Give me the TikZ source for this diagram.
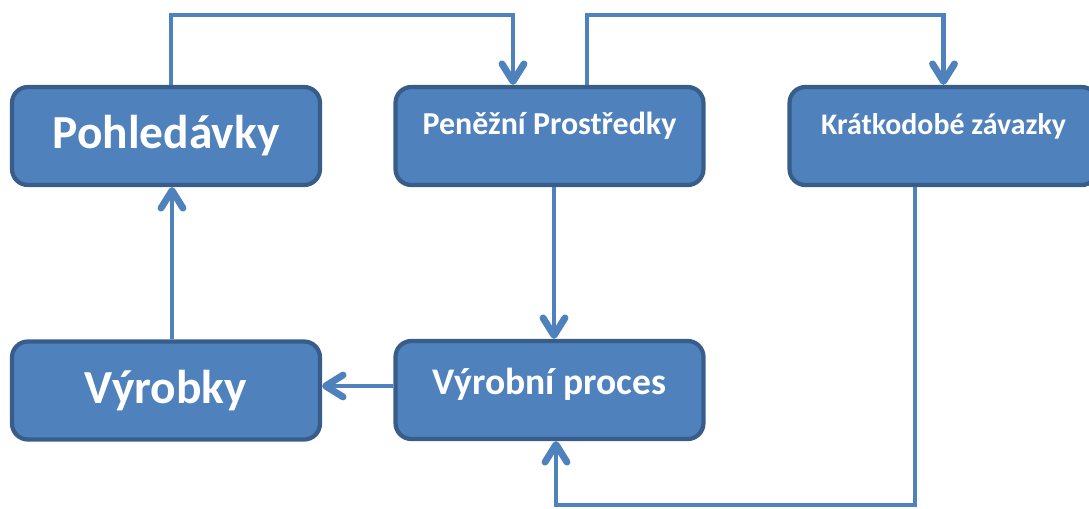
\documentclass[tikz,border=0pt]{standalone}
\usepackage{fontspec}
\setmainfont{Carlito}
\usetikzlibrary{arrows.meta}
\definecolor{boxfill}{HTML}{4F81BD}
\definecolor{boxline}{HTML}{385D8A}
\tikzset{
  >={Straight Barb[length=10pt,width=12.5pt,line width=0pt 1.4,round]},
  box/.style={draw=boxline,fill=boxfill,line width=2.4pt,rounded corners=9pt,
    minimum width=6.16cm,minimum height=1.96cm,inner sep=0pt,
    text=white,font=\bfseries},
  upper/.style={text height=13pt,text depth=15pt},
  flow/.style={draw=boxfill,line width=2.8pt,->},
}
\begin{document}
\begin{tikzpicture}[x=0.02cm,y=-0.02cm]
  \useasboundingbox (0,0) rectangle (1089,508);
  % boxes
  \node[box,font=\bfseries\fontsize{27}{32}\selectfont] (pohl) at (166,136) {Pohledávky};
  \node[box,upper,font=\bfseries\fontsize{18.2}{22}\selectfont] (pen) at (549.5,136) {Peněžní Prostředky};
  \node[box,upper,font=\bfseries\fontsize{17}{20}\selectfont] (krat) at (943.5,136) {Krátkodobé závazky};
  \node[box,font=\bfseries\fontsize{27}{32}\selectfont] (vyrobky) at (166,390.5) {Výrobky};
  \node[box,font=\bfseries\fontsize{21.4}{25}\selectfont,text height=15pt,text depth=10pt] (vyrobni) at (549.5,390) {Výrobní proces};
  % connectors
  \coordinate (a1) at (171,15);
  \coordinate (a2) at (513,15);
  \coordinate (b1) at (587,15);
  \coordinate (c1) at (172,0);
  \coordinate (d1) at (915,505);
  \coordinate (d2) at (556,505);
  \coordinate (e1) at (554,0);
  \coordinate (f1) at (0,386);
  \draw[flow] (pohl.north -| a1) -- (a1) -- (a2) -- (pen.north -| a2);
  \draw[flow] (pen.north -| b1) -- (b1) -| (krat.north);
  \draw[flow] (pen.south -| e1) -- (vyrobni.north -| e1);
  \draw[flow] (vyrobni.west |- f1) -- (vyrobky.east |- f1);
  \draw[flow] (vyrobky.north -| c1) -- (pohl.south -| c1);
  \draw[flow] (krat.south -| d1) -- (d1) -- (d2) -- (vyrobni.south -| d2);
\end{tikzpicture}
\end{document}
